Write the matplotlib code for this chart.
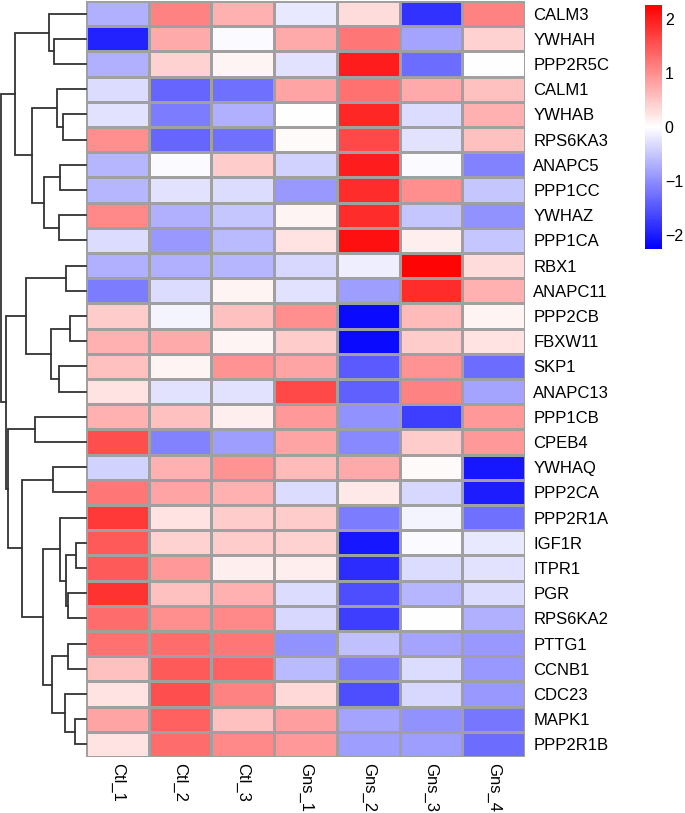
import numpy as np
import matplotlib
matplotlib.use("Agg")
import matplotlib.pyplot as plt
from matplotlib.colors import LinearSegmentedColormap

plt.rcParams['font.family'] = ['Liberation Sans', 'DejaVu Sans']

genes = ["CALM3", "YWHAH", "PPP2R5C", "CALM1", "YWHAB", "RPS6KA3", "ANAPC5",
         "PPP1CC", "YWHAZ", "PPP1CA", "RBX1", "ANAPC11", "PPP2CB", "FBXW11",
         "SKP1", "ANAPC13", "PPP1CB", "CPEB4", "YWHAQ", "PPP2CA", "PPP2R1A",
         "IGF1R", "ITPR1", "PGR", "RPS6KA2", "PTTG1", "CCNB1", "CDC23", "MAPK1",
         "PPP2R1B"]
samples = ["Ctl_1", "Ctl_2", "Ctl_3", "Gns_1", "Gns_2", "Gns_3", "Gns_4"]

# z-scores per sample (column), rows in the order above
ctl_1 = [-0.7, -1.95, -0.7, -0.3, -0.25, 1.0, -0.65, -0.65, 1.05, -0.3, -0.7, -1.15, 0.45, 0.7, 0.55,
         0.25, 0.7, 1.55, -0.4, 1.2, 1.75, 1.45, 1.45, 1.8, 1.3, 1.25, 0.55, 0.25, 0.8, 0.25]
ctl_2 = [1.1, 0.75, 0.4, -1.35, -1.15, -1.35, -0.05, -0.25, -0.7, -0.9, -0.7, -0.3, -0.1, 0.75, 0.1,
         -0.25, 0.55, -1.1, 0.7, 0.8, 0.25, 0.4, 0.9, 0.55, 1.0, 1.3, 1.45, 1.55, 1.4, 1.3]
ctl_3 = [0.7, -0.05, 0.1, -1.25, -0.7, -1.25, 0.45, -0.3, -0.5, -0.6, -0.65, 0.1, 0.55, 0.1, 0.95,
         -0.25, 0.15, -0.85, 0.95, 0.7, 0.45, 0.45, 0.15, 0.7, 1.05, 1.2, 1.4, 1.1, 0.55, 1.05]
gns_1 = [-0.2, 0.75, -0.25, 0.8, 0.0, 0.05, -0.4, -0.9, 0.1, 0.25, -0.35, -0.25, 1.0, 0.45, 0.8,
         1.6, 0.9, 0.8, 0.6, -0.3, 0.45, 0.4, 0.15, -0.3, -0.35, -0.95, -0.6, 0.35, 0.85, 0.9]
gns_2 = [0.3, 1.2, 2.0, 1.25, 1.9, 1.6, 2.0, 1.85, 1.85, 2.1, -0.15, -0.85, -2.15, -2.15, -1.45,
         -1.4, -0.95, -1.05, 0.75, 0.2, -1.15, -2.05, -1.85, -1.55, -1.7, -0.55, -1.15, -1.55, -0.8, -0.85]
gns_3 = [-1.8, -0.8, -1.3, 0.75, -0.3, -0.25, -0.05, 1.0, -0.5, 0.15, 2.2, 1.85, 0.6, 0.45, 0.95,
         1.1, -1.7, 0.45, 0.05, -0.35, -0.1, -0.05, -0.3, -0.65, 0.0, -0.8, -0.3, -0.35, -0.95, -0.85]
gns_4 = [1.1, 0.4, 0.0, 0.55, 0.7, 0.55, -1.1, -0.5, -0.95, -0.5, 0.3, 0.7, 0.1, 0.25, -1.3,
         -0.8, 0.9, 0.9, -2.05, -2.0, -1.25, -0.2, -0.25, -0.3, -0.7, -0.9, -0.9, -0.9, -1.2, -1.3]

# row clustering: (left, right, merge height), leaves are row indices
row_tree = (
    ((0, (1, 2, 32.0), 36.7),
     ((3, (4, 5, 22.7), 29.3), ((6, 7, 25.7), (8, 9, 26.7), 41.7), 54.3),
     71.0),
    (((10, 11, 20.3), ((12, 13, 16.0), (14, 15, 27.3), 35.3), 59.7),
     ((16, 17, 51.0),
      ((18, 19, 33.3),
       ((20, ((21, 22, 10.0), (23, 24, 17.7), 20.3), 26.0),
        ((25, 26, 17.7), (27, (28, 29, 11.0), 21.0), 34.3), 42.7),
       64.3),
      77.7),
     80.3),
    85.0)

mat = np.array([ctl_1, ctl_2, ctl_3, gns_1, gns_2, gns_3, gns_4]).T
nrow, ncol = mat.shape

W, H = 685, 813
fig = plt.figure(figsize=(W / 100, H / 100), dpi=100)

hm_left, hm_right, hm_top, hm_bot = 86, 525, 1, 757
ax = fig.add_axes([hm_left / W, 1 - hm_bot / H, (hm_right - hm_left) / W, (hm_bot - hm_top) / H])
cmap = LinearSegmentedColormap.from_list("bwr_ph", ["#0000ff", "#ffffff", "#ff0000"], N=256)
mesh = ax.pcolormesh(mat, cmap=cmap, vmin=-2.25, vmax=2.25,
                     edgecolors="#a0a0a0", linewidth=1.0)
ax.set_xlim(0, ncol)
ax.set_ylim(nrow, 0)
for s in ax.spines.values():
    s.set_visible(False)
ax.yaxis.tick_right()
ax.set_yticks(np.arange(nrow) + 0.5)
ax.set_yticklabels(genes, fontsize=12)
ax.set_xticks(np.arange(ncol) + 0.5)
ax.set_xticklabels(samples, fontsize=12, rotation=270)
ax.tick_params(length=0, pad=6)
ax.tick_params(axis="x", pad=4)

# dendrogram
dax = fig.add_axes([0, 1 - hm_bot / H, hm_left / W, (hm_bot - hm_top) / H])
dax.set_xlim(86, 0)
dax.set_ylim(nrow, 0)
dax.axis("off")


def draw(node):
    if isinstance(node, int):
        return node + 0.5, 0.0
    left, right, h = node
    yl, hl = draw(left)
    yr, hr = draw(right)
    dax.plot([hl, h, h, hr], [yl, yl, yr, yr], color="#333333", lw=1.3,
             solid_joinstyle="miter", clip_on=False)
    return (yl + yr) / 2, h


draw(row_tree)

# colorbar
cax = fig.add_axes([645 / W, 1 - 249 / H, 17 / W, 244 / H])
cb = fig.colorbar(mesh, cax=cax, ticks=[-2, -1, 0, 1, 2])
cb.outline.set_visible(False)
cax.tick_params(length=0, labelsize=11.5, pad=2)

fig.savefig("out.png", dpi=100)
